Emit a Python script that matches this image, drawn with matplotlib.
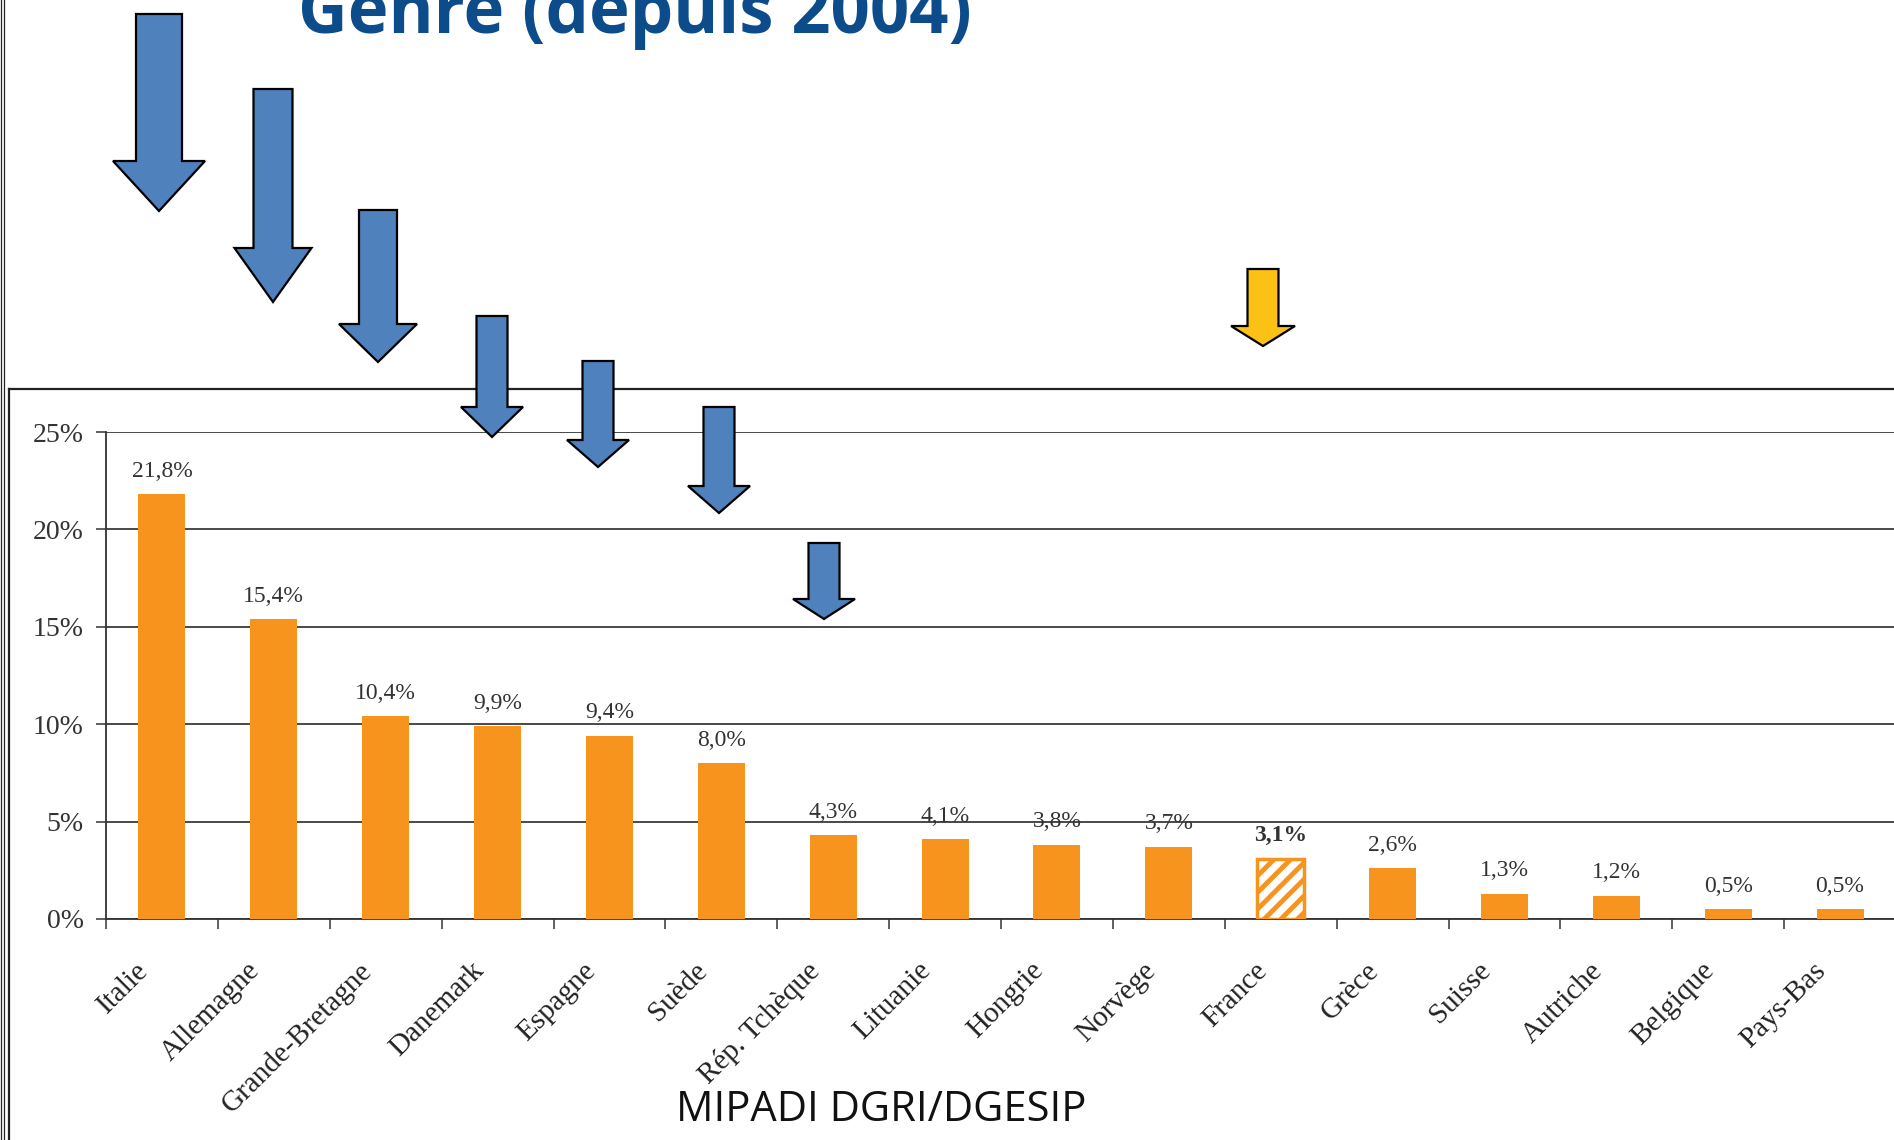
from matplotlib import pyplot as plt
from matplotlib.patches import Polygon
from matplotlib.lines import Line2D
from matplotlib.transforms import ScaledTranslation

countries = ['Italie', 'Allemagne', 'Grande-Bretagne', 'Danemark', 'Espagne',
             'Suède', 'Rép. Tchèque', 'Lituanie', 'Hongrie', 'Norvège',
             'France', 'Grèce', 'Suisse', 'Autriche', 'Belgique', 'Pays-Bas']
shares = [21.8, 15.4, 10.4, 9.9, 9.4, 8.0, 4.3, 4.1, 3.8, 3.7,
          3.1, 2.6, 1.3, 1.2, 0.5, 0.5]
value_labels = ['21,8%', '15,4%', '10,4%', '9,9%', '9,4%', '8,0%', '4,3%',
                '4,1%', '3,8%', '3,7%', '3,1%', '2,6%', '1,3%', '1,2%',
                '0,5%', '0,5%']
highlight = 'France'
y_ticks = [0, 5, 10, 15, 20, 25]
title = 'Genre (depuis 2004)'
source = 'MIPADI DGRI/DGESIP'

ORANGE = '#F7941D'
BLUE = '#4F81BD'
YELLOW = '#FBC115'
TITLE_BLUE = '#0D4C8A'
SERIF = 'Liberation Serif'

plt.rcParams['hatch.linewidth'] = 3.5

W, H = 1894, 1140
fig = plt.figure(figsize=(W / 100, H / 100), dpi=100)


def fx(x):
    return x / W


def fy(y):
    return 1 - y / H


# slide edges and chart frame
for x in (1, 4):
    fig.add_artist(Line2D([fx(x), fx(x)], [0, 1], color='#222222', lw=0.9))
fig.add_artist(Line2D([fx(9), 1], [fy(389), fy(389)], color='#222222', lw=1.6))
fig.add_artist(Line2D([fx(9), fx(9)], [fy(389), 0], color='#222222', lw=1.6))

ax = fig.add_axes([fx(106), fy(919), (1896 - 106) / W, (919 - 432) / H])
bars = ax.bar(range(len(countries)), shares, width=0.42, color=ORANGE, zorder=3)
hi = countries.index(highlight)
bars[hi].set_facecolor('white')
bars[hi].set_edgecolor(ORANGE)
bars[hi].set_linewidth(2.5)
bars[hi].set_hatch('//')

for i, (v, lab) in enumerate(zip(shares, value_labels)):
    ax.annotate(lab, (i, v), xytext=(0, 9), textcoords='offset points',
                ha='center', va='bottom', fontsize=17, family=SERIF,
                color='#333333', fontweight='bold' if i == hi else 'normal')

ax.set_xlim(-0.5, len(countries) - 0.5)
ax.set_ylim(0, 25)
ax.set_xticks([i - 0.5 for i in range(len(countries) + 1)])
ax.set_xticklabels([])
ax.set_xticks(range(len(countries)), minor=True)
ax.set_xticklabels(countries, minor=True, rotation=45, ha='right',
                   rotation_mode='anchor', fontsize=21, family=SERIF,
                   color='#222222')
ax.tick_params(axis='x', which='minor', length=0, pad=22)
ax.tick_params(axis='x', which='major', length=7, width=1.2, color='#444444')
shift = ScaledTranslation(-0.27, -0.08, fig.dpi_scale_trans)
for lab in ax.get_xticklabels(minor=True):
    lab.set_transform(lab.get_transform() + shift)
ax.set_yticks(y_ticks)
ax.set_yticklabels([f'{t}%' for t in y_ticks], fontsize=20, family=SERIF,
                   color='#333333')
ax.tick_params(axis='y', length=7, width=1.2, color='#444444', pad=9)
ax.grid(axis='y', color='#3a3a3a', lw=1.3, zorder=0)
for side in ('top', 'right'):
    ax.spines[side].set_visible(False)
for side in ('left', 'bottom'):
    ax.spines[side].set_color('#333333')
    ax.spines[side].set_linewidth(1.3)

# down arrows: centre x, top, head start, tip, shaft half width, head half width
arrows = [
    (159, 14, 161, 211, 23, 46, BLUE),
    (273, 89, 248, 302, 19.5, 38.5, BLUE),
    (378, 210, 324, 362, 19, 39, BLUE),
    (492, 316, 407, 437, 15.5, 31, BLUE),
    (598, 361, 440, 467, 15.5, 31, BLUE),
    (719, 407, 486, 513, 15.5, 31, BLUE),
    (824, 543, 599, 619, 15.5, 31, BLUE),
    (1263, 269, 326, 346, 15.5, 32, YELLOW),
]
for cx, top, hs, tip, sw, hw, c in arrows:
    pts = [(cx - sw, top), (cx + sw, top), (cx + sw, hs), (cx + hw, hs),
           (cx, tip), (cx - hw, hs), (cx - sw, hs)]
    fig.add_artist(Polygon([(fx(x), fy(y)) for x, y in pts], closed=True,
                           facecolor=c, edgecolor='black', lw=1.6, zorder=10))

fig.text(fx(298), fy(33), title, fontsize=49.5, fontweight='bold',
         family='Open Sans', color=TITLE_BLUE, ha='left', va='baseline')
fig.text(fx(676), fy(1121), source, fontsize=30, family='Open Sans',
         color='#111111', ha='left', va='baseline')

fig.savefig('out.png', dpi=100)
